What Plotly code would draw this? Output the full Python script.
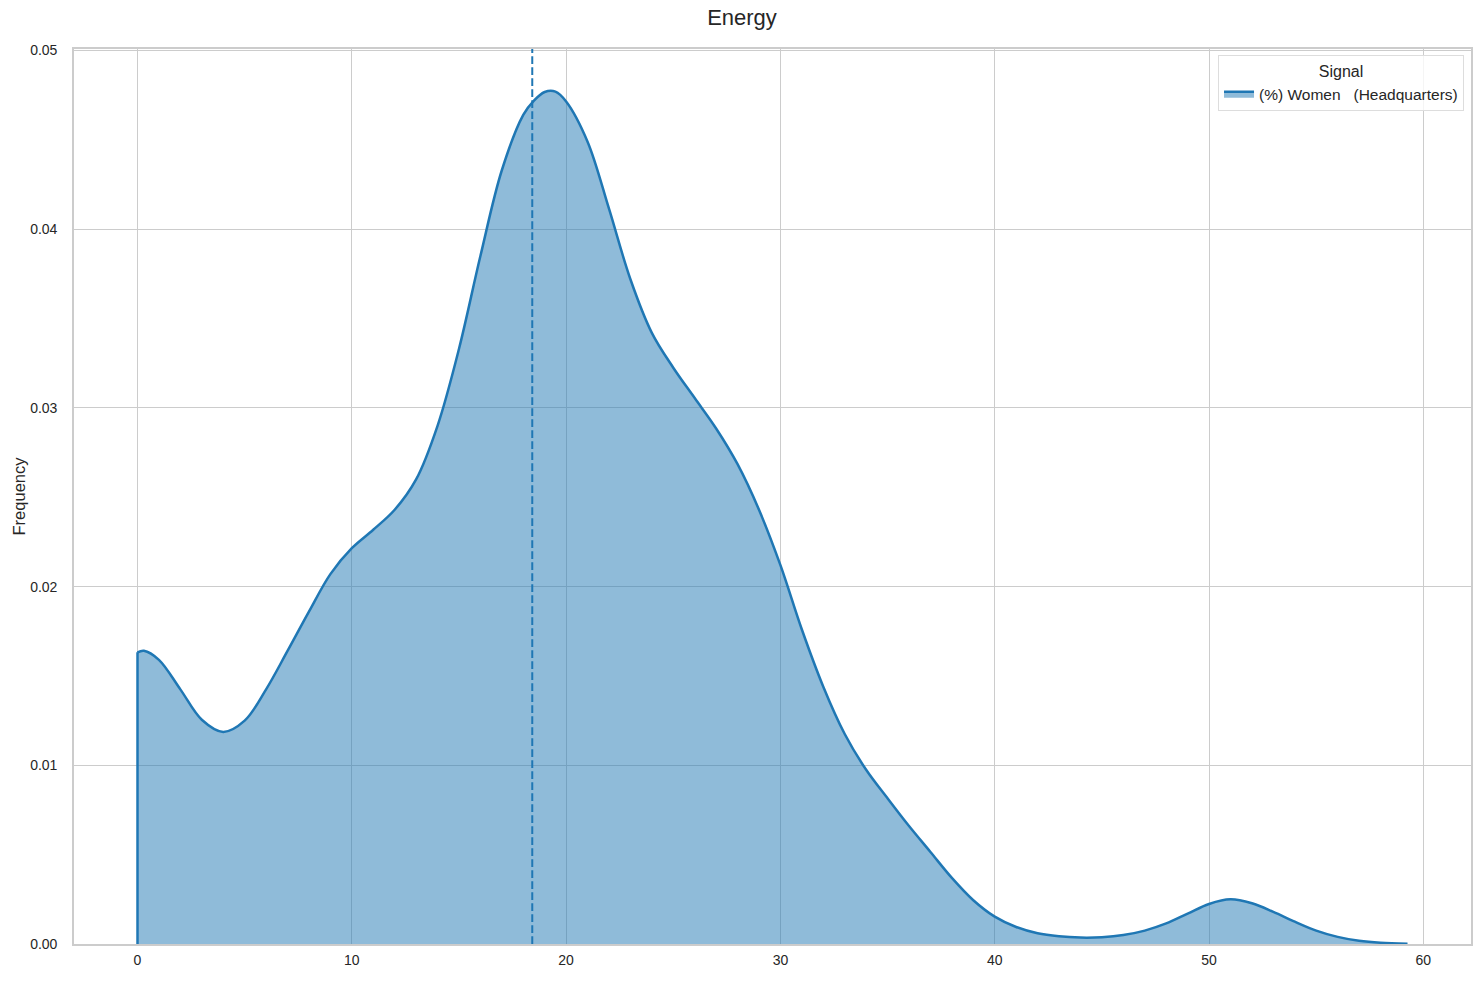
import plotly.graph_objects as go

# KDE curve
kde_x = [0.0, 0.3, 1, 2, 3, 4, 5, 6, 7, 8, 9, 10, 11, 12, 13, 14, 15, 16, 17, 18, 18.5,
         19, 19.5, 20, 21, 22, 23, 24, 25, 26, 27, 28, 29, 30, 31, 32, 33, 34, 35, 36, 37,
         38, 39, 40, 41, 42, 43, 44, 45, 46, 47, 48, 49, 50, 51, 52, 53, 54, 55, 56, 57,
         58, 59.26]
kde_y = [0.01632, 0.01641, 0.01590, 0.01425, 0.01255, 0.01187, 0.01250, 0.01425, 0.01640,
         0.01860, 0.02070, 0.02215, 0.02318, 0.02430, 0.02600, 0.02900, 0.03330, 0.03850,
         0.04330, 0.04640, 0.04720, 0.04768, 0.04770, 0.04715, 0.04490, 0.04115, 0.03720,
         0.03420, 0.03225, 0.03055, 0.02885, 0.02685, 0.02430, 0.02120, 0.01760, 0.01440,
         0.01175, 0.00975, 0.00815, 0.00660, 0.00515, 0.00370, 0.00245, 0.00153, 0.00095,
         0.00060, 0.00043, 0.00036, 0.00038, 0.00050, 0.00075, 0.00115, 0.00170, 0.00224,
         0.00250, 0.00228, 0.00180, 0.00125, 0.00075, 0.00040, 0.00018, 0.00007, 0.00002]
mean_x = 18.42
series_name = "(%) Women   (Headquarters)"
x_ticks = [0, 10, 20, 30, 40, 50, 60]
y_ticks = [0.0, 0.01, 0.02, 0.03, 0.04, 0.05]

blue = "#1f77b4"
font = "Liberation Sans, Arial, sans-serif"

fig = go.Figure()
fig.add_trace(go.Scatter(
    x=kde_x, y=kde_y, mode="lines", fill="tozeroy",
    line=dict(color=blue, width=2.5, shape="spline", smoothing=1.0),
    fillcolor="rgba(31,119,180,0.5)", name=series_name, showlegend=True,
))
# left vertical edge of filled area
fig.add_trace(go.Scatter(
    x=[kde_x[0], kde_x[0]], y=[0, kde_y[0]], mode="lines",
    line=dict(color=blue, width=2.5), showlegend=False, hoverinfo="skip",
))

ymax = max(kde_y) * 1.05
xr = (kde_x[-1] - kde_x[0]) * 0.05
fig.add_shape(type="line", x0=mean_x, x1=mean_x, y0=0, y1=1, yref="paper",
              line=dict(color=blue, width=2, dash="7.7px,3.3px"))

fig.update_layout(
    width=1484, height=982,
    margin=dict(l=74, r=11, t=49, b=38),
    paper_bgcolor="white", plot_bgcolor="white",
    font=dict(family=font, size=14, color="#262626"),
    title=dict(text="Energy", x=0.5, xanchor="center", y=0.9825, yanchor="middle",
               font=dict(size=22, color="#262626")),
    xaxis=dict(range=[kde_x[0] - xr, kde_x[-1] + xr], tickvals=x_ticks,
               showgrid=True, gridcolor="#cccccc", gridwidth=1,
               showline=True, linecolor="#cccccc", linewidth=1.6, mirror=True,
               zeroline=False, ticks="outside", ticklen=2, tickcolor="rgba(0,0,0,0)",
               tickfont=dict(size=14)),
    yaxis=dict(range=[0, ymax], tickvals=y_ticks, tickformat=".2f",
               showgrid=True, gridcolor="#cccccc", gridwidth=1,
               showline=True, linecolor="#cccccc", linewidth=1.6, mirror=True,
               zeroline=False, ticks="outside", ticklen=12, tickcolor="rgba(0,0,0,0)",
               tickfont=dict(size=14),
               title=dict(text="Frequency", font=dict(size=16.5), standoff=0)),
    legend=dict(x=0.995, xanchor="right", y=0.993, yanchor="top",
                bgcolor="rgba(255,255,255,0.8)", bordercolor="#dddddd", borderwidth=1,
                title=dict(text="Signal", side="top center", font=dict(size=16)),
                font=dict(size=15.5)),
)

fig.write_html("out.html", config={"displayModeBar": False},
               post_script="document.body.style.margin='0px';")
